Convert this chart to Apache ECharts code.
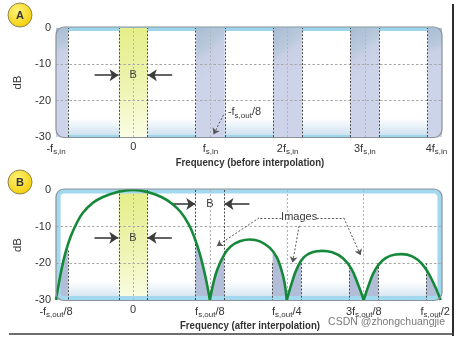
<!DOCTYPE html>
<html>
<head>
<meta charset="utf-8">
<script src="https://cdn.jsdelivr.net/npm/echarts@6/dist/echarts.min.js"></script>
<style>
  html, body { margin: 0; padding: 0; background: #ffffff; }
  #chart { width: 460px; height: 339px; }
</style>
</head>
<body>
<div id="chart"></div>
<script>
// Frequency axis is measured in units of f_s,in (= f_s,out / 8)
const tickValues = [-1, 0, 1, 2, 3, 4];
const tickLabelsBefore = ['-f{s|s,in}', '0', 'f{s|s,in}', '2f{s|s,in}', '3f{s|s,in}', '4f{s|s,in}{p| }'];
const tickLabelsAfter = ['-f{s|s,out}/8', '0', 'f{s|s,out}/8', 'f{s|s,out}/4', '3f{s|s,out}/8', 'f{s|s,out}/2{p| }'];
const titleBefore = 'Frequency (before interpolation)';
const titleAfter = 'Frequency (after interpolation)';
const dbMin = -30;
const dbMax = 0;
const dbStep = 10;
const gridDb = [-10, -20];

// Interpolation filter response in dB: pass-band lobe and three image lobes
const mainLobe = [[-1, -30], [-0.95, -24], [-0.9, -19], [-0.85, -15.2], [-0.8, -12.2], [-0.73, -9],
  [-0.65, -6.2], [-0.52, -3.5], [-0.39, -1.9], [-0.21, -0.6], [0, 0], [0.2, -0.6], [0.37, -1.9],
  [0.5, -3.6], [0.62, -6], [0.72, -9.2], [0.8, -13], [0.87, -17.5], [0.93, -22.5], [0.97, -26.5], [1, -30]];
const imageLobe1 = [[1, -30], [1.05, -25], [1.1, -21.5], [1.18, -17.9], [1.27, -15.4], [1.4, -13.9],
  [1.52, -13.5], [1.65, -14], [1.78, -15.8], [1.87, -18.4], [1.93, -21.8], [1.97, -25.3], [2, -30]];
const imageLobe2 = [[2, -30], [2.07, -25], [2.13, -21.5], [2.22, -18.4], [2.33, -17], [2.46, -16.6],
  [2.59, -17], [2.73, -18.6], [2.84, -21.5], [2.93, -26], [3, -30]];
const imageLobe3 = [[3, -30], [3.08, -25], [3.15, -21.7], [3.24, -19.3], [3.35, -17.9], [3.49, -17.5],
  [3.63, -18.1], [3.76, -20.2], [3.88, -24.2], [4, -30]];
const lobes = [mainLobe, imageLobe1, imageLobe2, imageLobe3];

// Signal band B around DC and image bands around multiples of f_s,in
const signalBand = [-0.185, 0.185];
const imageBands = [[-1, -0.845], [0.815, 1.185], [1.815, 2.185], [2.815, 3.185], [3.815, 4]];
const bandCentres = [0, 1, 2, 3];
// Band edges after interpolation that start partway down (x, top in dB)
const partialEdges = [[-0.845, -16.5], [1.815, -20], [2.185, -20], [2.815, -20], [3.185, -20], [3.815, -20]];
const fullEdgesAfter = [-0.185, 0.185, 0.815, 1.185];

const FONT = "'Liberation Sans', Arial, sans-serif";
const TXT = '#333333';

const yellowFill = {
  type: 'linear', x: 0, y: 0, x2: 0.3, y2: 1,
  colorStops: [{ offset: 0, color: '#e5ee88' }, { offset: 0.55, color: '#eef4b2' }, { offset: 1, color: '#fafde4' }]
};
const bandFill = {
  type: 'linear', x: 0, y: 0, x2: 1, y2: 0.35,
  colorStops: [{ offset: 0, color: '#a9bdd3' }, { offset: 0.45, color: '#bac9dc' }, { offset: 0.6, color: '#c9d0e6' }, { offset: 1, color: '#cdd3e9' }]
};
const shadeColor = '#b2bdd7';

const darkDash = { color: '#4a4a4a', width: 1, type: [2, 1.6] };
const lightDash = { color: '#b4b4b4', width: 1, type: [2, 2] };
const gridDash = { color: '#a8a8a8', width: 1, type: [2.5, 2] };
const pointerDash = { color: '#555555', width: 1, type: [2, 1.8] };

const richSub = {
  s: { fontSize: 8, fontFamily: FONT, color: TXT, padding: [7, 0, 0, 0] },
  p: { width: 11 }
};

function xAxisFor(gridIndex, labels) {
  return {
    gridIndex, type: 'value', min: tickValues[0], max: tickValues[tickValues.length - 1], interval: 1,
    axisLine: { show: false }, axisTick: { show: false }, splitLine: { show: false },
    axisLabel: {
      margin: 4, color: TXT, fontSize: 11, fontFamily: FONT, showMinLabel: true, showMaxLabel: true,
      hideOverlap: false, rich: richSub,
      formatter: v => labels[tickValues.indexOf(Math.round(v))] || ''
    }
  };
}
function yAxisFor(gridIndex) {
  return {
    gridIndex, type: 'value', min: dbMin, max: dbMax, interval: dbStep,
    axisLine: { show: false }, axisTick: { show: false }, splitLine: { show: false },
    axisLabel: { margin: 5, color: TXT, fontSize: 11, fontFamily: FONT },
    name: 'dB', nameLocation: 'middle', nameGap: 22,
    nameTextStyle: { color: TXT, fontSize: 11.5, fontFamily: FONT }
  };
}

const markerBase = { silent: true, animation: false };

function vLine(x, style) { return { xAxis: x, lineStyle: style }; }
function hLine(y, style) { return { yAxis: y, lineStyle: style }; }
function seg(a, b, style, arrow, size) {
  return [
    { coord: a, symbol: 'none', lineStyle: style },
    { coord: b, symbol: arrow ? 'arrow' : 'none', symbolSize: size || 9 }
  ];
}
function textMark(coord, text, pos) {
  return { coord, label: { formatter: text, position: pos || 'inside', distance: 0 } };
}
function bandAreas(bands, fill) {
  return bands.map(b => [{ xAxis: b[0], itemStyle: { color: fill } }, { xAxis: b[1] }]);
}

const arrowStyle = { color: '#3c3c3c', width: 1.6, type: 'solid' };

// ---- Panel A: spectrum before interpolation ----
const seriesA = [
  {
    type: 'line', xAxisIndex: 0, yAxisIndex: 0, data: [], z: 1,
    markArea: Object.assign({}, markerBase, {
      label: { show: false },
      data: bandAreas([signalBand], yellowFill).concat(bandAreas(imageBands, bandFill))
    })
  },
  {
    type: 'line', xAxisIndex: 0, yAxisIndex: 0, data: [], z: 4,
    markLine: Object.assign({}, markerBase, {
      symbol: ['none', 'none'], label: { show: false },
      data: gridDb.map(y => hLine(y, gridDash))
        .concat(bandCentres.map(x => vLine(x, lightDash)))
        .concat(signalBand.concat(imageBands.flat().filter(x => x !== -1 && x !== 4)).map(x => vLine(x, darkDash)))
    })
  },
  {
    type: 'line', xAxisIndex: 0, yAxisIndex: 0, data: [], z: 6,
    markLine: Object.assign({}, markerBase, {
      symbol: ['none', 'arrow'], label: { show: false },
      data: [
        seg([-0.5, -13], [-0.19, -13], arrowStyle, true, 9),
        seg([0.505, -13], [0.19, -13], arrowStyle, true, 9),
        seg([1.17, -23.9], [1.04, -29.3], pointerDash, true, 6)
      ]
    }),
    markPoint: Object.assign({}, markerBase, {
      symbol: 'circle', symbolSize: 1, itemStyle: { color: 'rgba(0,0,0,0)' },
      label: { show: true, color: '#3a3a3a', fontSize: 11, fontFamily: FONT, rich: richSub },
      data: [
        textMark([0, -13], 'B'),
        textMark([1.22, -23.2], '-f{s|s,out}/8', 'right')
      ]
    })
  }
];

// ---- Panel B: spectrum after interpolation ----
const seriesB = [
  {
    type: 'line', xAxisIndex: 1, yAxisIndex: 1, data: [], z: 1,
    markArea: Object.assign({}, markerBase, {
      label: { show: false },
      data: bandAreas([signalBand], yellowFill).concat(bandAreas(imageBands, shadeColor))
    })
  }
];
// white fill above the response keeps the band shading only underneath the curve
lobes.forEach(l => seriesB.push({
  type: 'line', xAxisIndex: 1, yAxisIndex: 1, data: l, smooth: 0.45, symbol: 'none', z: 2,
  lineStyle: { opacity: 0 }, areaStyle: { origin: 'end', color: '#ffffff', opacity: 1 }, silent: true
}));
seriesB.push({
  type: 'line', xAxisIndex: 1, yAxisIndex: 1, data: [], z: 4,
  markLine: Object.assign({}, markerBase, {
    symbol: ['none', 'none'], label: { show: false },
    data: gridDb.map(y => hLine(y, gridDash))
      .concat(bandCentres.map(x => vLine(x, lightDash)))
      .concat(fullEdgesAfter.map(x => vLine(x, darkDash)))
      .concat(partialEdges.map(p => seg([p[0], p[1]], [p[0], dbMin], darkDash, false)))
  })
});
// response curve
lobes.forEach(l => seriesB.push({
  type: 'line', xAxisIndex: 1, yAxisIndex: 1, data: l, smooth: 0.45, symbol: 'none', z: 5,
  lineStyle: { color: '#16883a', width: 2.6 }, silent: true
}));
seriesB.push({
  type: 'line', xAxisIndex: 1, yAxisIndex: 1, data: [], z: 6,
  markLine: Object.assign({}, markerBase, {
    symbol: ['none', 'arrow'], label: { show: false },
    data: [
      seg([-0.5, -13], [-0.19, -13], arrowStyle, true, 9),
      seg([0.505, -13], [0.19, -13], arrowStyle, true, 9),
      seg([0.515, -3.8], [0.81, -3.8], arrowStyle, true, 9),
      seg([1.515, -3.8], [1.19, -3.8], arrowStyle, true, 9),
      seg([1.93, -7.6], [1.64, -7.6], pointerDash, false),
      seg([1.64, -7.6], [1.09, -15.3], pointerDash, true, 6),
      seg([2.16, -9.8], [2.075, -19.8], pointerDash, true, 6),
      seg([2.39, -7.6], [2.74, -7.6], pointerDash, false),
      seg([2.74, -7.6], [2.96, -17.8], pointerDash, true, 6)
    ]
  }),
  markPoint: Object.assign({}, markerBase, {
    symbol: 'circle', symbolSize: 1, itemStyle: { color: 'rgba(0,0,0,0)' },
    label: { show: true, color: '#3a3a3a', fontSize: 11, fontFamily: FONT },
    data: [
      textMark([0, -13], 'B'),
      textMark([1, -3.8], 'B'),
      textMark([2.16, -7.4], 'Images')
    ]
  })
});

// ---- panel frames and decorations ----
const L = 56, R = 442;
const A_T = 27, A_B = 137.5, B_T = 189, B_B = 300.5;
function vgrad(c0, c1) {
  return { type: 'linear', x: 0, y: 0, x2: 0, y2: 1, colorStops: [{ offset: 0, color: c0 }, { offset: 1, color: c1 }] };
}
function badge(cx, cy, letter) {
  return [
    { type: 'circle', z: 50, shape: { cx, cy, r: 12 },
      style: { fill: { type: 'radial', x: 0.4, y: 0.35, r: 0.7, colorStops: [{ offset: 0, color: '#fff37a' }, { offset: 1, color: '#f2cc00' }] },
        stroke: '#8f8455', lineWidth: 1 } },
    { type: 'text', z: 51, x: cx, y: cy + 0.5,
      style: { text: letter, align: 'center', verticalAlign: 'middle', textAlign: 'center', textVerticalAlign: 'middle',
        fontSize: 11, fontWeight: 'bold', fontFamily: FONT, fill: '#333' } }
  ];
}
function axisTitle(text, cx, cy) {
  return { type: 'text', z: 50, x: cx, y: cy, scaleX: 0.84,
    style: { text, align: 'center', verticalAlign: 'middle', textAlign: 'center', textVerticalAlign: 'middle',
      fontSize: 11.5, fontWeight: 'bold', fontFamily: FONT, fill: TXT } };
}
const graphics = [
  // panel A box
  { type: 'rect', z: -5, shape: { x: L, y: A_T, width: R - L, height: A_B - A_T, r: 8 }, style: { fill: '#9dd5ea' } },
  { type: 'rect', z: -5, shape: { x: L, y: A_T + 4, width: R - L, height: A_B - A_T - 7 }, style: { fill: '#ffffff' } },
  { type: 'rect', z: -5, shape: { x: L, y: A_B - 19, width: R - L, height: 16 }, style: { fill: vgrad('#ffffff', '#d0e2ef') } },
  { type: 'rect', z: 40, shape: { x: L, y: A_T, width: R - L, height: A_B - A_T, r: 8 }, style: { fill: 'none', stroke: '#8a9198', lineWidth: 1.2 } },
  // panel B box
  { type: 'rect', z: -5, shape: { x: L, y: B_T, width: R - L, height: B_B - B_T, r: 8 }, style: { fill: '#ffffff' } },
  { type: 'rect', z: -5, shape: { x: L + 4, y: B_B - 19, width: R - L - 8, height: 16 }, style: { fill: vgrad('#ffffff', '#d4e4f0') } },
  { type: 'rect', z: 3, shape: { x: L + 2.3, y: B_T + 2.3, width: R - L - 4.6, height: B_B - B_T - 4.6, r: 6 },
    style: { fill: 'none', stroke: '#a3d9ee', lineWidth: 4.6 } },
  { type: 'rect', z: 40, shape: { x: L, y: B_T, width: R - L, height: B_B - B_T, r: 8 }, style: { fill: 'none', stroke: '#8a9198', lineWidth: 1.2 } },
  // axis titles
  axisTitle(titleBefore, 250, 163),
  axisTitle(titleAfter, 250, 326),
  // outer frame
  { type: 'line', z: 60, shape: { x1: 453, y1: 4, x2: 453, y2: 336 }, style: { stroke: '#2c2c2c', lineWidth: 2 } },
  { type: 'line', z: 60, shape: { x1: 9, y1: 334, x2: 454, y2: 334 }, style: { stroke: '#3c3c3c', lineWidth: 1.5 } },
  // watermark
  { type: 'text', z: 60, x: 445, y: 322,
    style: { text: 'CSDN @zhongchuangjie', align: 'right', verticalAlign: 'middle', textAlign: 'right', textVerticalAlign: 'middle',
      fontSize: 10.5, fontFamily: FONT, fill: '#7a7a7a' } }
].concat(badge(20, 15, 'A'), badge(20, 182, 'B'));

const chart = echarts.init(document.getElementById('chart'), null, { renderer: 'canvas' });
chart.setOption({
  animation: false,
  backgroundColor: '#ffffff',
  grid: [
    { left: L, width: R - L, top: 28, height: 109 },
    { left: L, width: R - L, top: 190, height: 110 }
  ],
  xAxis: [xAxisFor(0, tickLabelsBefore), xAxisFor(1, tickLabelsAfter)],
  yAxis: [yAxisFor(0), yAxisFor(1)],
  series: seriesA.concat(seriesB),
  graphic: graphics
});
</script>
</body>
</html>
